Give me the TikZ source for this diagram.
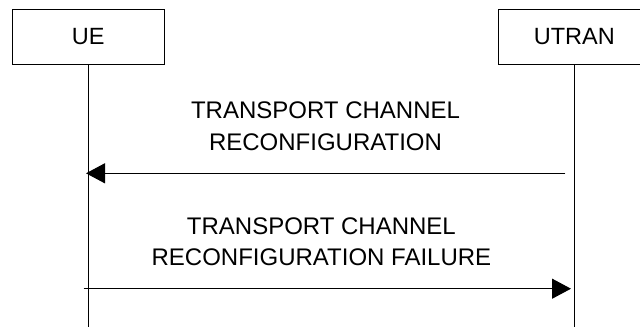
\documentclass[tikz,border=0pt]{standalone}
\usepackage{fontspec}
\setmainfont{Liberation Sans}
\usetikzlibrary{arrows.meta}
\begin{document}
\begin{tikzpicture}[x=1pt,y=-1pt,
  entity/.style={draw,line width=1pt,minimum width=152pt,minimum height=55pt,inner sep=0pt,font=\fontsize{23.5}{28}\selectfont},
  lifeline/.style={line width=1pt},
  msg/.style={line width=1.2pt,-{Triangle[length=19pt,width=20pt]}},
  lbl/.style={align=center,font=\fontsize{24}{31.5}\selectfont,inner sep=0pt}]
\useasboundingbox (0,0) rectangle (640,327);
\node[entity] (ue) at (88.3,36.8) {UE};
\node[entity] (utran) at (574.3,36.8) {UTRAN};
\coordinate (ueb) at (88.3,327);
\coordinate (utb) at (574.3,327);
\draw[lifeline] (ue.south) -- (ueb);
\draw[lifeline] (utran.south) -- (utb);
\coordinate (m1s) at (565.3,173.3);
\coordinate (m1e) at (86,173.3);
\coordinate (m2s) at (83.7,288.7);
\coordinate (m2e) at (571,288.7);
\draw[msg] (m1s) -- (m1e);
\draw[msg] (m2s) -- (m2e);
\node[lbl] (t1) at (325.5,126) {TRANSPORT CHANNEL\\RECONFIGURATION};
\node[lbl] (t2) at (321.4,241.5) {TRANSPORT CHANNEL\\RECONFIGURATION FAILURE};
\end{tikzpicture}
\end{document}
